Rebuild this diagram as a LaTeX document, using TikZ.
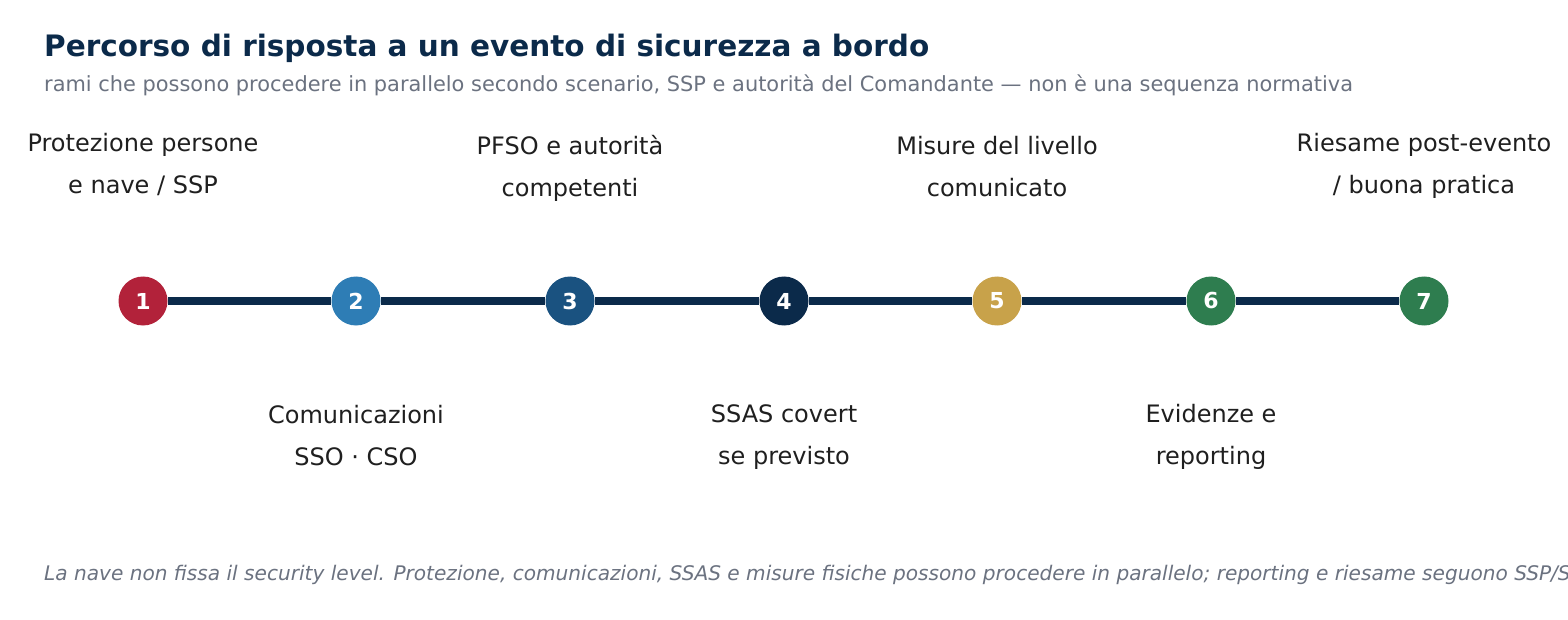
\documentclass[tikz,border=0pt]{standalone}
\usepackage{fontspec}
\setmainfont{DejaVu Sans}
\definecolor{titlec}{HTML}{0B2A4A}
\definecolor{subc}{HTML}{6B7280}
\definecolor{labc}{HTML}{1F1F1F}
\definecolor{linec}{HTML}{0B2A4A}
\definecolor{c1}{HTML}{B2223A}
\definecolor{c2}{HTML}{2E7DB5}
\definecolor{c3}{HTML}{1A5280}
\definecolor{c4}{HTML}{0B2A4A}
\definecolor{c5}{HTML}{C8A24A}
\definecolor{c6}{HTML}{2E7D4F}
\tikzset{
  stepdot/.style={circle, minimum size=49pt, inner sep=0pt, text=white,
    font=\bfseries\fontsize{22}{26}\selectfont},
  track/.style={line width=8pt, draw=linec},
  lab/.style={inner sep=0pt, anchor=base, text=labc,
    font=\fontsize{24}{42}\selectfont},
}
\newcommand{\twolines}[2]{\begin{tabular}[t]{@{}c@{}}#1\\#2\end{tabular}}
\begin{document}
\begin{tikzpicture}[x=1pt,y=-1pt]
\useasboundingbox (0,0) rectangle (1568,620);
\clip (0,0) rectangle (1568,620);
\fill[white] (0,0) rectangle (1568,620);

\node[anchor=base west, inner sep=0pt, text=titlec,
  font=\bfseries\fontsize{29.5}{34}\selectfont] (title) at (44,57)
  {Percorso di risposta a un evento di sicurezza a bordo};
\node[anchor=base west, inner sep=0pt, text=subc,
  font=\fontsize{20.9}{25}\selectfont] (subtitle) at (44,92)
  {rami che possono procedere in parallelo secondo scenario, SSP e autorità del Comandante — non è una sequenza normativa};

\node[stepdot, fill=c1] (n1) at (143,301) {1};
\node[stepdot, fill=c2] (n2) at (356,301) {2};
\node[stepdot, fill=c3] (n3) at (570,301) {3};
\node[stepdot, fill=c4] (n4) at (784,301) {4};
\node[stepdot, fill=c5] (n5) at (997,301) {5};
\node[stepdot, fill=c6] (n6) at (1211,301) {6};
\node[stepdot, fill=c6] (n7) at (1424,301) {7};

\draw[track] (n1) -- (n2);
\draw[track] (n2) -- (n3);
\draw[track] (n3) -- (n4);
\draw[track] (n4) -- (n5);
\draw[track] (n5) -- (n6);
\draw[track] (n6) -- (n7);

\node[lab] (l1) at (143,152) {\twolines{Protezione persone}{e nave / SSP}};
\node[lab] (l3) at (570,155) {\twolines{PFSO e autorità}{competenti}};
\node[lab] (l5) at (997,155) {\twolines{Misure del livello}{comunicato}};
\node[lab] (l7) at (1424,152) {\twolines{Riesame post-evento}{/ buona pratica}};
\node[lab] (l2) at (356,423) {\twolines{Comunicazioni}{SSO · CSO}};
\node[lab] (l4) at (784,422) {\twolines{SSAS covert}{se previsto}};
\node[lab] (l6) at (1211,422) {\twolines{Evidenze e}{reporting}};

\node[anchor=base west, inner sep=0pt, text=subc,
  font=\itshape\fontsize{20.1}{24}\selectfont] (foot) at (44,580)
  {La nave non fissa il security level. Protezione, comunicazioni, SSAS e misure fisiche possono procedere in parallelo; reporting e riesame seguono SSP/S};
\end{tikzpicture}
\end{document}
